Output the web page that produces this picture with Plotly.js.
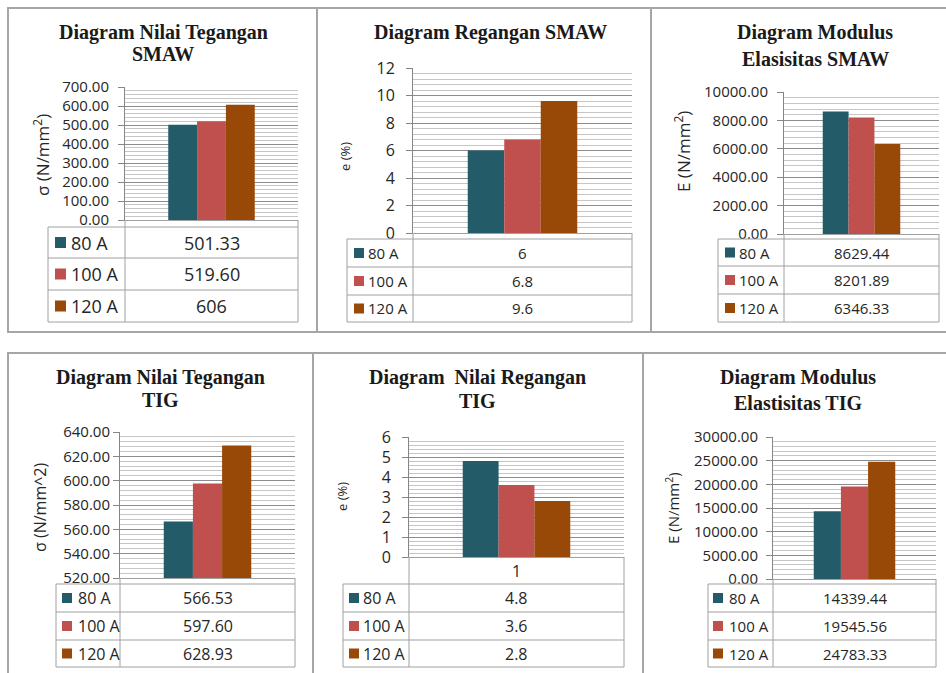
<!DOCTYPE html>
<html><head><meta charset="utf-8">
<script src="https://cdn.plot.ly/plotly-3.0.1.min.js"></script>
<style>html,body{margin:0;padding:0;background:#fff}#chart{width:946px;height:673px}</style>
</head><body><div id="chart"></div>
<script>
// ---------- data ----------
const seriesNames = ['80 A', '100 A', '120 A'];
const category = ['1'];
const smawStress = [501.33, 519.60, 606];
const smawStrain = [6, 6.8, 9.6];
const smawModulus = [8629.44, 8201.89, 6346.33];
const tigStress = [566.53, 597.60, 628.93];
const tigStrain = [4.8, 3.6, 2.8];
const tigModulus = [14339.44, 19545.56, 24783.33];
const titles = [
  ['Diagram Nilai Tegangan', 'SMAW'],
  ['Diagram Regangan SMAW'],
  ['Diagram Modulus', 'Elasisitas SMAW'],
  ['Diagram Nilai Tegangan', 'TIG'],
  ['Diagram  Nilai Regangan', 'TIG'],
  ['Diagram Modulus', 'Elastisitas TIG']
];
const yTitles = ['σ (N/mm<sup>2</sup>)', 'e (%)', 'E (N/mm<sup>2</sup>)', 'σ (N/mm^2)', 'e (%)', 'E (N/mm<sup>2</sup>)'];
const yRanges = [[0, 700], [0, 12], [0, 10000], [520, 640], [0, 6], [0, 30000]];
const yMajor = [100, 2, 2000, 20, 1, 5000];
const yMinor = [20, 0.4, 400, 4, 0.2, 1000];

// ---------- styles / layout ----------
const colors = ['#235B68', '#C0504D', '#984807'];
const W = 946, H = 673;
const fmt2 = v => v.toFixed(2);
const fmtMixed = v => Number.isInteger(v) ? String(v) : v.toFixed(2);
const fmtPlain = v => String(v);

const panels = [
  {values: smawStress, fmt: fmtMixed, tickformat: '.2f', border: [8, 317, 8, 332], plot: [125, 298, 87, 220],
   tLeft: 48, rows: [227, 258, 290, 322], key: 55, keySize: 11, label: 69, tcx: 163, tby: [39, 61],
   ytx: 42, yty: 155, ytSize: 17, tickSize: 15, tableSize: 18, standoff: 6},
  {values: smawStrain, fmt: fmtPlain, tickformat: 'd', border: [317, 651, 8, 332], plot: [413, 632, 68, 233],
   tLeft: 347, rows: [239, 267, 295, 322], key: 354, keySize: 10, label: 366, tcx: 490, tby: [39],
   ytx: 345, yty: 157, ytSize: 13, tickSize: 16, tableSize: 15, standoff: 8},
  {values: smawModulus, fmt: fmt2, tickformat: '.2f', border: [651, 950, 8, 332], plot: [784, 939, 92, 234],
   tLeft: 718, rows: [239, 266, 294, 322], key: 725, keySize: 10, label: 737, tcx: 815, tby: [39, 66],
   ytx: 683, yty: 152, ytSize: 17, tickSize: 15, tableSize: 15, standoff: 6},
  {values: tigStress, fmt: fmt2, tickformat: '.2f', border: [8, 313, 353, 690], plot: [120, 295, 432, 578],
   tLeft: 56, rows: [584, 612, 640, 667], key: 62, keySize: 10, label: 76, tcx: 160, tby: [384, 407],
   ytx: 40, yty: 507, ytSize: 16, tickSize: 15, tableSize: 16, standoff: 0},
  {values: tigStrain, fmt: fmtPlain, tickformat: 'd', border: [313, 643, 353, 690], plot: [409, 624, 437, 557],
   tLeft: 343, rows: [584, 612, 640, 667], key: 349, keySize: 10, label: 361, tcx: 478, tby: [384, 408],
   ytx: 342, yty: 497, ytSize: 13, tickSize: 16, tableSize: 16, standoff: 8, showCat: true},
  {values: tigModulus, fmt: fmt2, tickformat: '.2f', border: [643, 950, 353, 690], plot: [773, 936, 437, 579],
   tLeft: 708, rows: [584, 612, 640, 667], key: 713, keySize: 10, label: 727, tcx: 798, tby: [384, 410],
   ytx: 672, yty: 508, ytSize: 15, tickSize: 15, tableSize: 15, standoff: 5}
];

const px = x => x / W;
const py = y => 1 - y / H;
const FONT = 'Open Sans, Liberation Sans, sans-serif';
const SERIF = 'Liberation Serif, DejaVu Serif, serif';
const TXT = '#262626';
const GRID = '#8c8c8c', MINOR = '#c6c6c6', LINE = '#a0a0a0';

const data = [];
const shapes = [];
const annotations = [];
const layout = {
  width: W, height: H, margin: {l: 0, r: 0, t: 0, b: 0},
  paper_bgcolor: '#ffffff', plot_bgcolor: '#ffffff',
  showlegend: false, barmode: 'group', bargap: 0.5, bargroupgap: 0,
  font: {family: FONT, color: TXT}
};

function hline(x0, x1, y, color, w) {
  shapes.push({type: 'line', xref: 'paper', yref: 'paper', x0: px(x0), x1: px(x1), y0: py(y), y1: py(y),
    line: {color: color, width: w}, layer: 'above'});
}
function vline(x, y0, y1, color, w) {
  shapes.push({type: 'line', xref: 'paper', yref: 'paper', x0: px(x), x1: px(x), y0: py(y0), y1: py(y1),
    line: {color: color, width: w}, layer: 'above'});
}
function text(x, y, t, size, opts) {
  annotations.push(Object.assign({xref: 'paper', yref: 'paper', x: px(x), y: py(y), text: t, showarrow: false,
    xanchor: 'center', yanchor: 'middle', font: {family: FONT, size: size, color: TXT}}, opts || {}));
}

panels.forEach((p, i) => {
  const n = i + 1;
  const xa = 'x' + (n === 1 ? '' : n), ya = 'y' + (n === 1 ? '' : n);
  const xk = 'xaxis' + (n === 1 ? '' : n), yk = 'yaxis' + (n === 1 ? '' : n);
  const [l, r, t, b] = p.plot;
  seriesNames.forEach((s, k) => {
    data.push({type: 'bar', name: s, x: category, y: [p.values[k]], xaxis: xa, yaxis: ya,
      marker: {color: colors[k], line: {width: 0}}, hoverinfo: 'skip'});
  });
  layout[xk] = {domain: [px(l), px(r)], anchor: ya, range: [-0.5, 0.5], type: 'category',
    showline: true, linecolor: LINE, linewidth: 1, showgrid: false, zeroline: false,
    ticks: '', showticklabels: !!p.showCat, tickfont: {size: 16, color: TXT, family: FONT}, fixedrange: true};
  layout[yk] = {domain: [py(b), py(t)], anchor: xa, range: yRanges[i], dtick: yMajor[i], tick0: yRanges[i][0],
    tickformat: p.tickformat, showline: true, linecolor: '#868686', linewidth: 1,
    ticks: 'outside', ticklen: 6, tickcolor: '#868686', tickwidth: 1, ticklabelstandoff: p.standoff,
    showgrid: true, gridcolor: GRID, gridwidth: 1, zeroline: false,
    minor: {dtick: yMinor[i], tick0: yRanges[i][0], showgrid: true, gridcolor: MINOR, gridwidth: 1, ticks: ''},
    tickfont: {size: p.tickSize, color: TXT, family: FONT}, fixedrange: true};

  // panel frame
  shapes.push({type: 'rect', xref: 'paper', yref: 'paper', x0: px(p.border[0]), x1: px(p.border[1]),
    y0: py(p.border[3]), y1: py(p.border[2]), line: {color: '#a6a6a6', width: 2}, layer: 'below'});

  // titles
  p.tby.forEach((by, j) => {
    annotations.push({xref: 'paper', yref: 'paper', x: px(p.tcx), y: py(by - 7), text: '<b>' + titles[i][j] + '</b>',
      showarrow: false, xanchor: 'center', yanchor: 'middle', font: {family: SERIF, size: 20, color: '#1a1a1a'}});
  });
  // y title
  text(p.ytx, p.yty, yTitles[i], p.ytSize, {textangle: -90});

  // data table
  const rows = p.rows;
  vline(l, b, rows[0], LINE, 1);
  vline(r, b, rows[rows.length - 1], LINE, 1);
  vline(p.tLeft, rows[0], rows[rows.length - 1], LINE, 1);
  vline(l, rows[0], rows[rows.length - 1], LINE, 1);
  rows.forEach(y => hline(p.tLeft, r, y, LINE, 1));
  const vcx = (l + r) / 2;
  seriesNames.forEach((s, k) => {
    const cy = (rows[k] + rows[k + 1]) / 2;
    shapes.push({type: 'rect', xref: 'paper', yref: 'paper', x0: px(p.key), x1: px(p.key + p.keySize),
      y0: py(cy + p.keySize / 2), y1: py(cy - p.keySize / 2), fillcolor: colors[k], line: {width: 0}, layer: 'above'});
    text(p.label, cy, s, p.tableSize, {xanchor: 'left'});
    text(vcx, cy, p.fmt(p.values[k]), p.tableSize);
  });
});
layout.shapes = shapes;
layout.annotations = annotations;

Plotly.newPlot('chart', data, layout, {displayModeBar: false, staticPlot: true});
</script>
</body></html>
